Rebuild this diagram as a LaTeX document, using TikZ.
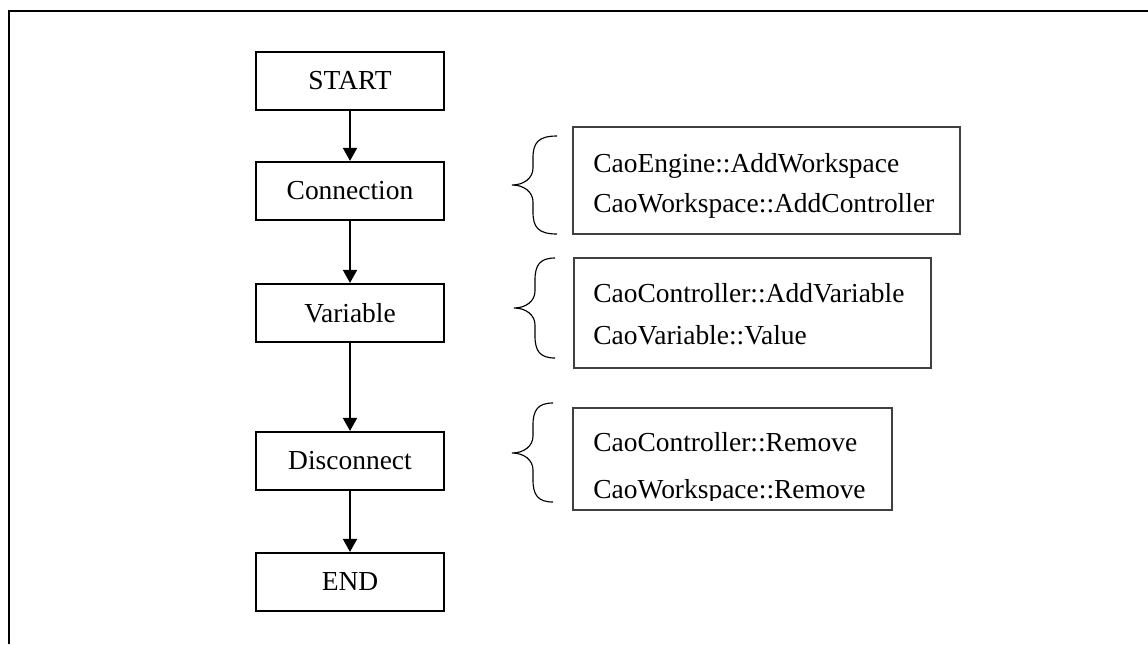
\documentclass[tikz,border=0pt]{standalone}
\usepackage{fontspec}
\setmainfont{Liberation Serif}
\usetikzlibrary{arrows.meta}
\begin{document}
\begin{tikzpicture}[x=0.75pt,y=-0.75pt,
  flowbox/.style={draw, line width=1.6pt, minimum width=141pt, minimum height=43.5pt, inner sep=0pt,
    font=\fontsize{20.6}{24}\selectfont},
  flowarr/.style={line width=1.3pt, -{Triangle[length=9.75pt,width=10.5pt]}},
  mapbox/.style={draw=black!75, line width=0.8pt},
  maptext/.style={anchor=base west, inner sep=0pt, font=\fontsize{20.6}{24}\selectfont},
  bracestyle/.style={line width=0.85pt}]
\useasboundingbox (0,0) rectangle (1148,644);
\draw[line width=1.5pt] (8.5,644) -- (8.5,10.5) -- (1148,10.5);

% flow chart
\node[flowbox] (start) at (350,81) {START};
\node[flowbox] (conn) at (350,191) {Connection};
\node[flowbox] (var) at (350,313) {Variable};
\node[flowbox] (disc) at (350,461) {Disconnect};
\node[flowbox] (end) at (350,582) {END};
\draw[flowarr] (start) -- (conn);
\draw[flowarr] (conn) -- (var);
\draw[flowarr] (var) -- (disc);
\draw[flowarr] (disc) -- (end);

% mapping boxes
\draw[mapbox] (573,127) rectangle (960,234);
\node[maptext] (t11) at (593,172) {CaoEngine::AddWorkspace};
\node[maptext] (t12) at (593,212) {CaoWorkspace::AddController};

\draw[mapbox] (574,258) rectangle (931,368);
\node[maptext] (t21) at (593,302) {CaoController::AddVariable};
\node[maptext] (t22) at (593,344) {CaoVariable::Value};

\draw[mapbox] (573,408) rectangle (892,510);
\node[maptext] (t31) at (593,451) {CaoController::Remove};
\begin{scope}
\clip (573,408) rectangle (892,500);
\node[maptext] (t32) at (593,498) {CaoWorkspace::Remove};
\end{scope}

% braces
\draw[bracestyle] (557,136) .. controls (538,136) and (533,143) .. (533,158) -- (533,168)
  .. controls (533,178) and (524,185) .. (512,185) .. controls (524,185) and (533,192) .. (533,202)
  -- (533,212) .. controls (533,227) and (538,234) .. (557,234);
\draw[bracestyle] (555,258) .. controls (540,258) and (535,265) .. (535,280) -- (535,291)
  .. controls (535,301) and (526,308) .. (514,308) .. controls (526,308) and (535,315) .. (535,325)
  -- (535,336) .. controls (535,351) and (540,358) .. (555,358);
\draw[bracestyle] (553,403) .. controls (538,403) and (533,410) .. (533,425) -- (533,436)
  .. controls (533,446) and (524,453) .. (512,453) .. controls (524,453) and (533,460) .. (533,470)
  -- (533,480) .. controls (533,495) and (538,502) .. (553,502);
\end{tikzpicture}
\end{document}
